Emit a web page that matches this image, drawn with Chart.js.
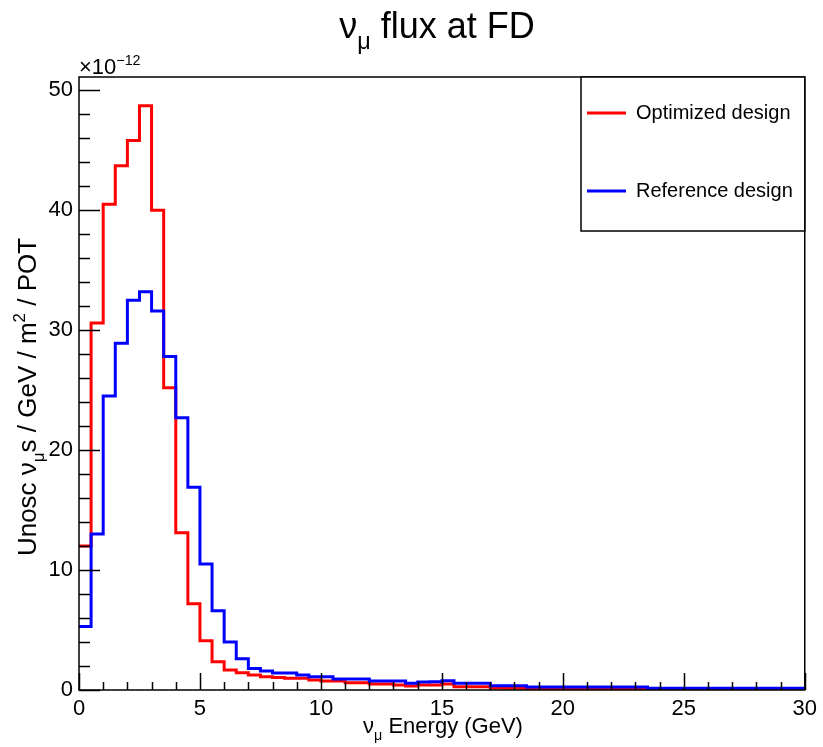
<!DOCTYPE html>
<html>
<head>
<meta charset="utf-8">
<script src="https://cdn.jsdelivr.net/npm/chart.js@4/dist/chart.umd.min.js"></script>
<style>
  body { margin: 0; background: #fff; }
  #wrap { width: 823px; height: 747px; }
</style>
</head>
<body>
<div id="wrap"><canvas id="fluxChart" width="823" height="747"></canvas></div>
<script>
// bins are 0.5 GeV wide, from 0 to 30 GeV; values in units of 1e-12
const binWidth = 0.5;
const optimized = [
  12.0, 30.6, 40.5, 43.7, 45.8, 48.7, 40.0, 25.2, 13.1, 7.2,
  4.1, 2.35, 1.66, 1.44, 1.25, 1.1, 1.05, 0.97, 0.97, 0.83,
  0.75, 0.75, 0.61, 0.61, 0.5, 0.5, 0.42, 0.33, 0.42, 0.42,
  0.5, 0.28, 0.28, 0.28, 0.16, 0.14, 0.14, 0.08, 0.06, 0.06,
  0.06, 0.06, 0.06, 0.06, 0.06, 0.06, 0.06, 0.05, 0.05, 0.05,
  0.05, 0.05, 0.05, 0.05, 0.05, 0.05, 0.05, 0.05, 0.05, 0.05
];
const reference = [
  5.3, 13.0, 24.5, 28.9, 32.5, 33.2, 31.6, 27.8, 22.7, 16.9,
  10.5, 6.6, 4.0, 2.6, 1.8, 1.58, 1.41, 1.41, 1.25, 1.1,
  1.1, 0.92, 0.92, 0.92, 0.75, 0.75, 0.75, 0.56, 0.66, 0.69,
  0.78, 0.56, 0.56, 0.56, 0.36, 0.36, 0.36, 0.25, 0.25, 0.25,
  0.25, 0.25, 0.25, 0.25, 0.25, 0.25, 0.25, 0.14, 0.14, 0.14,
  0.14, 0.14, 0.14, 0.14, 0.14, 0.14, 0.14, 0.14, 0.14, 0.14
];
const seriesLabels = ['Optimized design', 'Reference design'];
const xMax = 30;
const yMax = 51.1;

const FONT = '"Liberation Sans", Arial, Helvetica, sans-serif';

// left bin edges + closing point so the last bin gets drawn
function toSteps(values) {
  const pts = values.map((v, i) => ({ x: i * binWidth, y: v }));
  pts.push({ x: values.length * binWidth, y: values[values.length - 1] });
  return pts;
}

// text with sub/superscripts, parts = [{t, s: 'sub'|'sup'}]
function drawRich(ctx, parts, x, y, size, align) {
  let total = 0;
  parts.forEach(p => {
    ctx.font = (p.s ? size * 0.65 : size) + 'px ' + FONT;
    p.w = ctx.measureText(p.t).width;
    total += p.w;
  });
  let cx = align === 'center' ? x - total / 2 : x;
  ctx.textAlign = 'left';
  parts.forEach(p => {
    ctx.font = (p.s ? size * 0.65 : size) + 'px ' + FONT;
    let dy = 0;
    if (p.s === 'sub') dy = size * 0.3;
    if (p.s === 'sup') dy = -size * 0.42;
    ctx.fillText(p.t, cx, y + dy);
    cx += p.w;
  });
}

const rootStyle = {
  id: 'rootStyle',
  beforeDraw(chart) {
    const ctx = chart.ctx;
    ctx.save();
    ctx.fillStyle = '#fff';
    ctx.fillRect(0, 0, chart.width, chart.height);
    ctx.restore();
  },
  afterDraw(chart) {
    const ctx = chart.ctx;
    const a = chart.chartArea;
    const xs = chart.scales.x, ys = chart.scales.y;
    ctx.save();
    ctx.strokeStyle = '#000';
    ctx.fillStyle = '#000';
    ctx.lineWidth = 1.5;

    // ticks inside the frame
    ctx.beginPath();
    for (let v = 0; v <= yMax; v += 2) {
      const py = Math.round(ys.getPixelForValue(v)) + 0.5;
      const len = v % 10 === 0 ? 21 : 11;
      ctx.moveTo(a.left, py);
      ctx.lineTo(a.left + len, py);
    }
    for (let v = 0; v <= xMax; v += 1) {
      const px = Math.round(xs.getPixelForValue(v)) + 0.5;
      const len = v % 5 === 0 ? 17 : 8;
      ctx.moveTo(px, a.bottom);
      ctx.lineTo(px, a.bottom - len);
    }
    ctx.stroke();
    ctx.strokeRect(a.left, a.top, a.right - a.left, a.bottom - a.top);

    // legend box
    const lx = 581, ly = a.top, lw = a.right - 581, lh = 154;
    ctx.fillStyle = '#fff';
    ctx.fillRect(lx, ly, lw, lh);
    ctx.strokeRect(lx, ly, lw, lh);
    const rows = [113, 191];
    chart.data.datasets.forEach((ds, i) => {
      const row = rows[seriesLabels.indexOf(ds.label)];
      ctx.strokeStyle = ds.borderColor;
      ctx.lineWidth = 3;
      ctx.beginPath();
      ctx.moveTo(587, row);
      ctx.lineTo(626, row);
      ctx.stroke();
      ctx.fillStyle = '#000';
      ctx.font = '20px ' + FONT;
      ctx.textBaseline = 'middle';
      ctx.textAlign = 'left';
      ctx.fillText(ds.label, 636, row);
    });

    // titles
    ctx.fillStyle = '#000';
    ctx.textBaseline = 'alphabetic';
    drawRich(ctx, [{ t: 'ν' }, { t: 'μ', s: 'sub' }, { t: ' flux at FD' }], 437, 38, 36, 'center');
    drawRich(ctx, [{ t: 'ν' }, { t: 'μ', s: 'sub' }, { t: ' Energy (GeV)' }], 443, 733, 22, 'center');
    drawRich(ctx, [{ t: '×10' }, { t: '−12', s: 'sup' }], 79, 74, 22, 'left');

    ctx.translate(36, 397);
    ctx.rotate(-Math.PI / 2);
    drawRich(ctx, [
      { t: 'Unosc ν' }, { t: 'μ', s: 'sub' }, { t: 's / GeV / m' },
      { t: '2', s: 'sup' }, { t: ' / POT' }
    ], 0, 0, 26, 'center');
    ctx.restore();
  }
};

new Chart(document.getElementById('fluxChart'), {
  type: 'line',
  data: {
    datasets: [
      {
        label: seriesLabels[1],
        data: toSteps(reference),
        borderColor: '#0000ff',
        borderWidth: 3,
        stepped: 'before',
        pointRadius: 0,
        fill: false,
        order: 0,
      },
      {
        label: seriesLabels[0],
        data: toSteps(optimized),
        borderColor: '#ff0000',
        borderWidth: 3,
        stepped: 'before',
        pointRadius: 0,
        fill: false,
        order: 1,
      },
    ],
  },
  options: {
    responsive: false,
    animation: false,
    devicePixelRatio: 1,
    layout: { padding: { left: 19, right: 15, top: 77, bottom: 7 } },
    plugins: {
      legend: { display: false },
      title: { display: false },
      tooltip: { enabled: false },
    },
    scales: {
      x: {
        type: 'linear',
        min: 0,
        max: xMax,
        grid: { display: false, drawTicks: false },
        border: { display: false },
        ticks: {
          stepSize: 5,
          autoSkip: false,
          maxRotation: 0,
          padding: 6,
          color: '#000',
          font: { family: FONT, size: 22 },
        },
        afterFit(scale) { scale.height = 50; },
      },
      y: {
        type: 'linear',
        min: 0,
        max: yMax,
        grid: { display: false, drawTicks: false },
        border: { display: false },
        ticks: {
          stepSize: 10,
          includeBounds: false,
          padding: 6,
          color: '#000',
          font: { family: FONT, size: 22 },
          callback: v => (v % 10 === 0 ? v : ''),
        },
        afterFit(scale) { scale.width = 60; },
      },
    },
  },
  plugins: [rootStyle],
});
</script>
</body>
</html>
